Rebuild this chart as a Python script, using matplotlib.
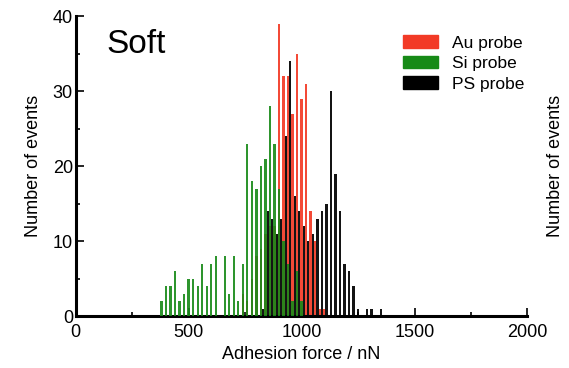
import matplotlib
matplotlib.use("Agg")
import matplotlib.pyplot as plt
from matplotlib.patches import Patch
from matplotlib.ticker import MultipleLocator

plt.rcParams['font.family'] = ['Liberation Sans', 'DejaVu Sans']

# bin centres (nN) and counts
au_force = [740, 760, 780, 800, 820, 840, 860, 880, 900, 920, 940, 960, 980,
            1000, 1020, 1040, 1060, 1080, 1100]
au_count = [3, 2, 5, 8, 9, 11, 12, 12, 39, 32, 32, 27, 35,
            29, 31, 14, 10, 1, 1]

si_force = [380, 400, 420, 440, 460, 480, 500, 520, 540, 560, 580, 600, 620,
            660, 680, 700, 720, 740, 760, 780, 800, 820, 840, 860, 880, 900,
            920, 940, 960, 980, 1000]
si_count = [2, 4, 4, 6, 2, 3, 5, 5, 4, 7, 4, 7, 8,
            8, 3, 8, 2, 7, 23, 18, 17, 20, 21, 28, 23, 17,
            10, 7, 2, 6, 2]

ps_force = [830, 850, 870, 890, 910, 930, 950, 970, 990, 1010, 1030, 1050,
            1070, 1090, 1110, 1130, 1150, 1170, 1190, 1210, 1230, 1250,
            1290, 1310, 1350]
ps_count = [1, 14, 13, 11, 13, 24, 34, 16, 14, 12, 10, 11,
            13, 14, 15, 30, 19, 14, 7, 6, 4, 1,
            1, 1, 1]

red = '#f23a26'
green = '#178a17'

fig = plt.figure(figsize=(5.69, 3.68), dpi=100)
ax = fig.add_axes([0.133, 0.141, 0.794, 0.815])

bw = 10
ax.bar(au_force, au_count, width=bw, color=red, alpha=0.92, zorder=2)
ax.bar(ps_force, ps_count, width=bw, color='black', alpha=0.92, zorder=3)
ax.bar(si_force, si_count, width=bw, color=green, alpha=0.9, zorder=4)

ax.set_xlim(0, 2000)
ax.set_ylim(0, 40)
ax.xaxis.set_major_locator(MultipleLocator(500))
ax.xaxis.set_minor_locator(MultipleLocator(250))
ax.yaxis.set_major_locator(MultipleLocator(10))
ax.yaxis.set_minor_locator(MultipleLocator(5))
ax.tick_params(which='both', direction='in', width=1.2, labelsize=13)
ax.tick_params(axis='x', pad=6)
ax.tick_params(axis='y', pad=2)
ax.tick_params(which='major', length=6)
ax.tick_params(which='minor', length=3)

for side in ['top', 'right']:
    ax.spines[side].set_visible(False)
for side in ['left', 'bottom']:
    ax.spines[side].set_linewidth(2.2)

ax.set_xlabel('Adhesion force / nN', fontsize=13, labelpad=3)
ax.set_ylabel('Number of events', fontsize=13, labelpad=8)
fig.text(0.977, 0.55, 'Number of events', fontsize=13, rotation=90,
         ha='center', va='center')

ax.text(0.068, 0.905, 'Soft', transform=ax.transAxes, fontsize=24,
        ha='left', va='center')

handles = [Patch(color=red), Patch(color=green), Patch(color='black')]
labels = ['Au probe', 'Si probe', 'PS probe']
ax.legend(handles, labels,
          loc='upper left', bbox_to_anchor=(0.71, 0.96), frameon=False,
          fontsize=12.5, handlelength=2.0, handleheight=0.75,
          handletextpad=0.8, labelspacing=0.3, borderaxespad=0)

fig.savefig('out.png', dpi=100)
